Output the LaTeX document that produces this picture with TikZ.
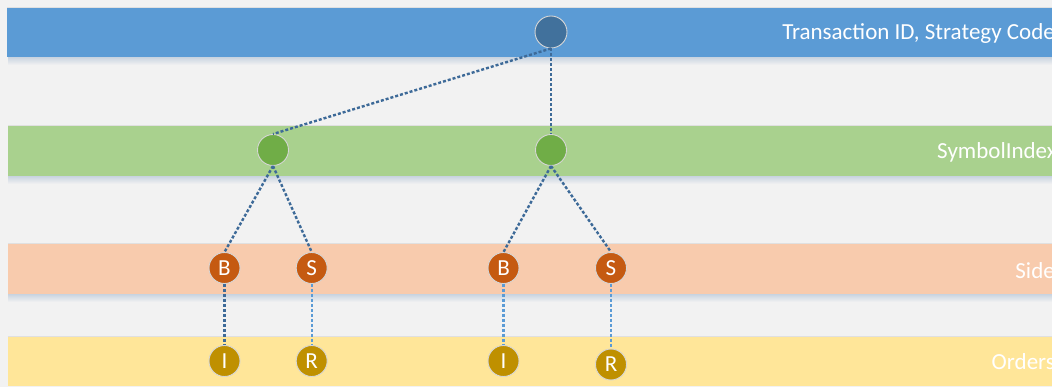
\documentclass[tikz,border=0pt]{standalone}
\usepackage{fontspec}
\setmainfont{Carlito}
\definecolor{bg}{HTML}{F2F2F2}
\definecolor{bandblue}{HTML}{5B9BD5}
\definecolor{bandgreen}{HTML}{A9D18E}
\definecolor{bandorange}{HTML}{F8CBAD}
\definecolor{bandyellow}{HTML}{FFE699}
\definecolor{nodeblue}{HTML}{41719C}
\definecolor{nodegreen}{HTML}{70AD47}
\definecolor{nodeorange}{HTML}{C55A11}
\definecolor{nodegold}{HTML}{BF9000}
\definecolor{darkline}{HTML}{3D6A98}
\definecolor{lightline}{HTML}{5B9BD5}
\definecolor{shadowc}{HTML}{C8D3E0}
\definecolor{circborder}{HTML}{D6D6D6}
\tikzset{
  bandlabel/.style={anchor=east, inner sep=0pt, text=white, font=\fontsize{23}{26}\selectfont},
  dot/.style={circle, draw=circborder, line width=0.9pt, minimum size=31pt, inner sep=0pt,
              text=white, font=\fontsize{23}{25}\selectfont},
  darkdash/.style={draw=darkline, line width=2.4pt, dash pattern=on 3pt off 2pt},
  lightdash/.style={draw=lightline, line width=2.4pt, dash pattern=on 3pt off 2pt},
}
\begin{document}
\begin{tikzpicture}[x=1pt,y=-1pt]
\useasboundingbox (0,0) rectangle (1052,387);
\clip (0,0) rectangle (1052,387);
\fill[bg] (0,0) rectangle (1052,387);
% shadows under bands
\foreach \yb in {57,176,294}{
  \shade[top color=shadowc, bottom color=bg] (8,\yb) rectangle (1060,\yb+8);
}
% bands
\fill[bandblue] (7,7) rectangle (1060,57);
\draw[black!12, line width=0.8pt] (7,7) -- (1060,7);
\fill[bandgreen] (8,125) rectangle (1060,176);
\draw[black!12, line width=0.8pt] (8,125) -- (1060,125);
\fill[bandorange] (8,243) rectangle (1060,294);
\draw[black!12, line width=0.8pt] (8,243) -- (1060,243);
\fill[bandyellow] (8,336) rectangle (1060,386);
\draw[black!12, line width=0.8pt] (8,336) -- (1060,336);
% band labels
\node[bandlabel] (lt) at (1055,33) {Transaction ID, Strategy Code};
\node[bandlabel] (lg) at (1057,152) {SymbolIndex};
\node[bandlabel] (lo) at (1055,271) {Side};
\node[bandlabel] (ly) at (1055,362) {Orders};
% nodes
\node[dot, fill=nodeblue, minimum size=32pt] (top) at (551,32) {};
\node[dot, fill=nodegreen] (g1) at (273,150) {};
\node[dot, fill=nodegreen] (g2) at (551,150) {};
\node[dot, fill=nodeorange] (b1) at (224.5,268) {B};
\node[dot, fill=nodeorange] (s1) at (311.7,268) {S};
\node[dot, fill=nodeorange] (b2) at (503.5,268) {B};
\node[dot, fill=nodeorange] (s2) at (611,268) {S};
\node[dot, fill=nodegold] (i1) at (224.5,361) {I};
\node[dot, fill=nodegold] (r1) at (311.7,361) {R};
\node[dot, fill=nodegold] (i2) at (503.5,361) {I};
\node[dot, fill=nodegold] (r2) at (611,364.5) {R};
% connectors
\draw[darkdash] (top.south) -- (g1.north);
\draw[darkdash] (top.south) -- (g2.north);
\draw[darkdash] (g1.south) -- (b1.north);
\draw[darkdash] (g1.south) -- (s1.north);
\draw[darkdash] (g2.south) -- (b2.north);
\draw[darkdash] (g2.south) -- (s2.north);
\draw[darkdash] (b1.south) -- (i1.north);
\draw[lightdash] (s1.south) -- (r1.north);
\draw[lightdash] (b2.south) -- (i2.north);
\draw[lightdash] (s2.south) -- (r2.north);
\end{tikzpicture}
\end{document}
